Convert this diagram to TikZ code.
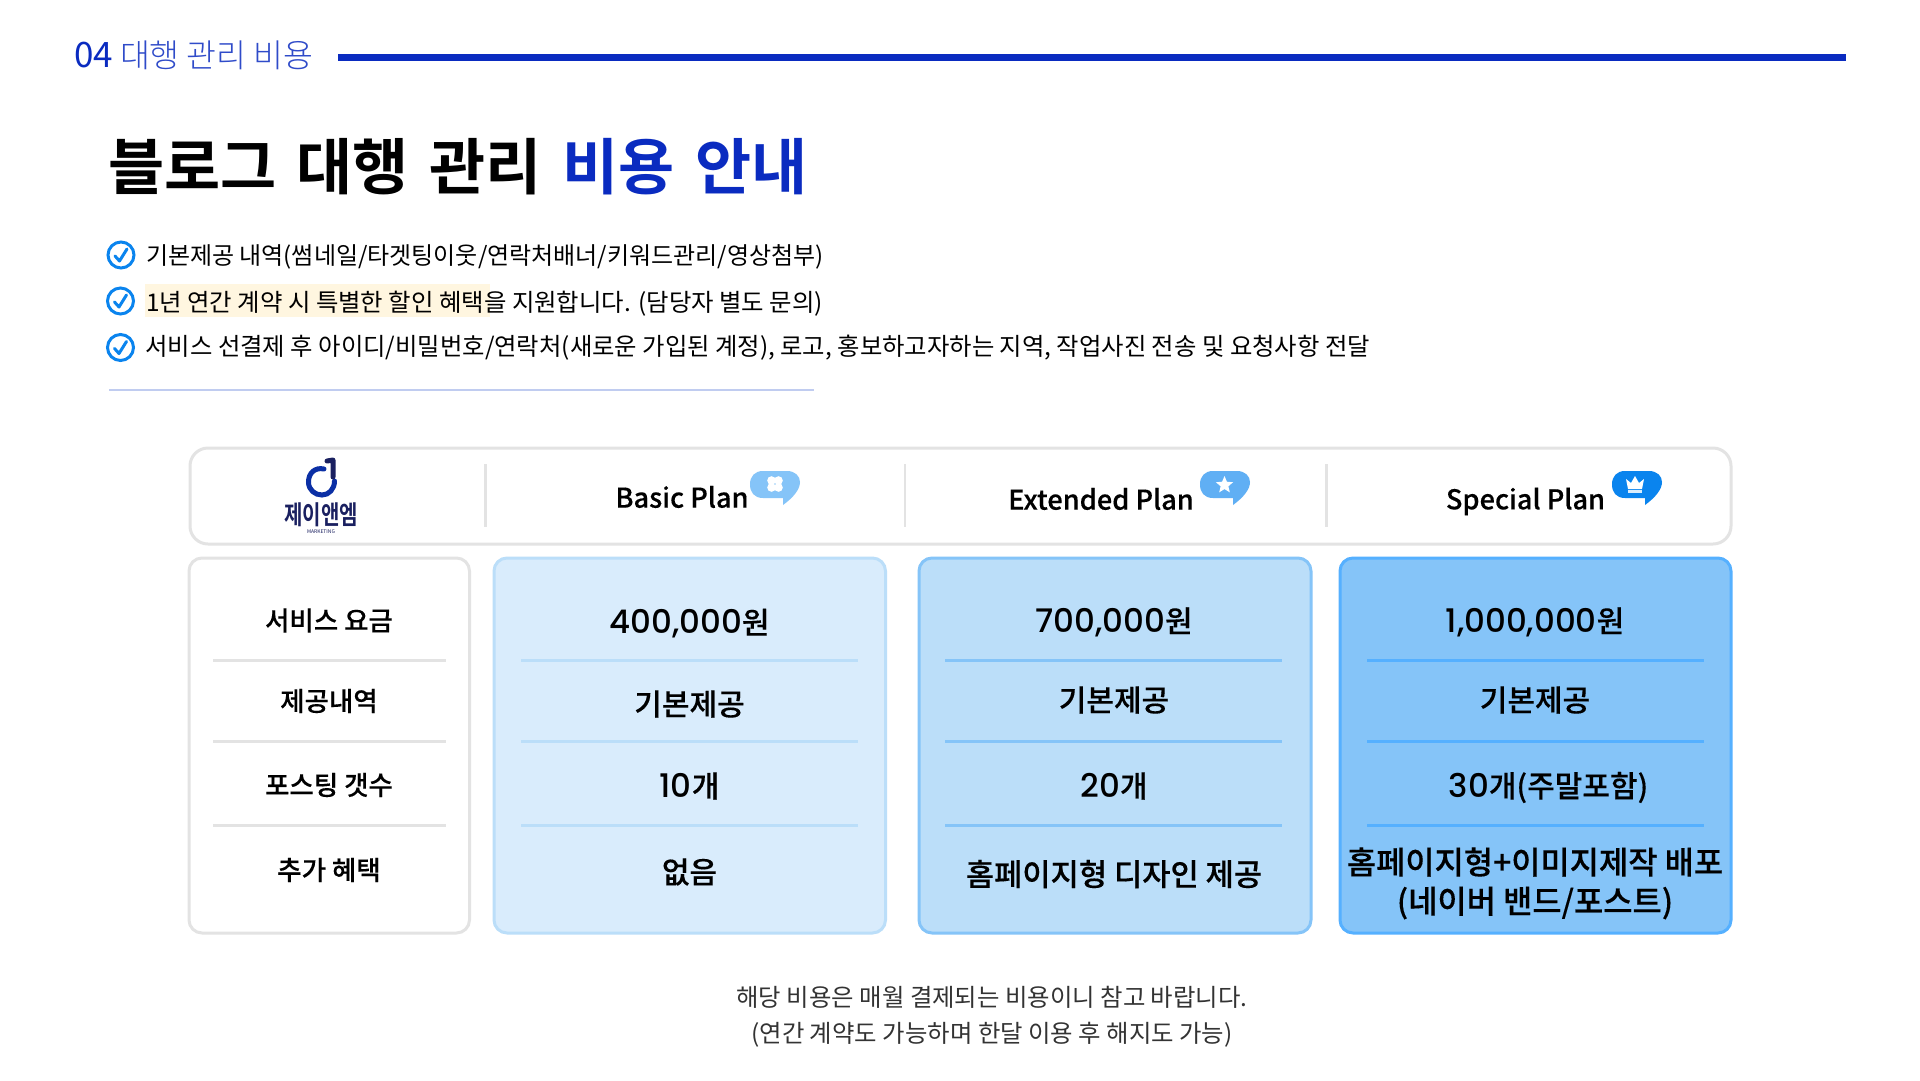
\documentclass[tikz,border=0pt]{standalone}
\usepackage{fontspec}
\usetikzlibrary{shapes.geometric,calc}
\newfontfamily\krl{Noto Sans CJK KR Light}
\newfontfamily\krr{Noto Sans CJK KR}
\newfontfamily\krm{Noto Sans CJK KR Medium}
\newfontfamily\krmf[FakeBold=0.25]{Noto Sans CJK KR Medium}
\newfontfamily\krb{Noto Sans CJK KR Bold}
\newfontfamily\dgf{Poppins Medium}
\definecolor{navyblue}{HTML}{0A2BC0}
\definecolor{grayline}{HTML}{E3E3E3}
\definecolor{hilite}{HTML}{FFF6E0}
\definecolor{rulecol}{HTML}{C0CCF0}
\definecolor{checkcol}{HTML}{0A84EE}
\definecolor{fillA}{HTML}{D9ECFC}
\definecolor{fillB}{HTML}{BBDEF9}
\definecolor{fillC}{HTML}{85C4F8}
\definecolor{edgeC}{HTML}{55B0FF}
\definecolor{logoblue}{HTML}{0B2FA5}
\definecolor{logotext}{HTML}{1A2060}
\tikzset{
  txt/.style={inner sep=0pt,outer sep=0pt,text=black},
  bullettext/.style={txt,anchor=west},
  rowlabel/.style={txt,font=\krmf\fontsize{26.5}{30}\selectfont},
  cellval/.style={txt,font=\krmf\fontsize{30}{34}\selectfont},
  cellbig/.style={txt,font=\krmf\fontsize{31.8}{34}\selectfont},
  planname/.style={txt,font=\krmf\fontsize{27.2}{30}\selectfont},
  footer/.style={txt,text=black!80,font=\krr\fontsize{24.4}{27}\selectfont},
  panel/.style={rounded corners=13pt,line width=3pt},
  hline/.style={line width=3pt},
  sepline/.style={grayline,line width=2.5pt},
  checkring/.style={draw=checkcol,line width=3pt,circle,minimum size=26pt,inner sep=0pt},
  checktick/.style={draw=checkcol,line width=3pt,line cap=round,line join=round}
}
\newcommand{\dg}[1]{{\dgf\fontsize{32.5}{34}\selectfont #1}}
\newcommand{\planbubble}[3]{%
  \begin{scope}[shift={(#1,#2)}]
  \fill[#3] (13,0) -- (37,0) .. controls (45,0) and (50,5) .. (50,11) .. controls (50,18) and (44,26) .. (33,34) -- (33,27) -- (13,27) .. controls (4,27) and (0,21) .. (0,13.5) .. controls (0,5) and (5,0) .. (13,0) -- cycle;
  \end{scope}}
\newcommand{\checkmarkicon}[2]{%
  \node[checkring] (#1) at #2 {};
  \draw[checktick] ($(#1.center)+(-6,1)$) -- ($(#1.center)+(-1.5,6)$) -- ($(#1.center)+(6,-6)$);}
\begin{document}
\begin{tikzpicture}[x=1pt,y=-1pt]
\useasboundingbox (0,0) rectangle (1920,1080);
\fill[white] (0,0) rectangle (1920,1080);
% header
\node[txt,anchor=west,text=navyblue,font=\krl\fontsize{32.5}{36}\selectfont] (sect) at (74,55) {{\krr\fontsize{35}{36}\selectfont 04} \textcolor{navyblue!85}{대행 관리 비용}};
\coordinate (ruleA) at (338,57.5);
\coordinate (ruleB) at (1846,57.5);
\draw[navyblue,line width=6.5pt] (ruleA) -- (ruleB);
% title
\node[txt,anchor=west,font=\krb\fontsize{61}{66}\selectfont] (title) at (108,167) {\spaceskip=20.5pt 블로그 대행 관리 \textcolor{navyblue}{비용 안내}};
% bullets
\fill[hilite] (145,284) rectangle (490,317);
\checkmarkicon{cka}{(121,255)}
\checkmarkicon{ckb}{(120.5,301)}
\checkmarkicon{ckc}{(120.5,347.5)}
\node[bullettext,font=\krr\fontsize{24}{28}\selectfont] (ba) at (146,257) {기본제공 내역(썸네일/타겟팅이웃/연락처배너/키워드관리/영상첨부)};
\node[bullettext,font=\krr\fontsize{24.4}{28}\selectfont] (bb) at (146,303.5) {1년 연간 계약 시 특별한 할인 혜택을 지원합니다. (담당자 별도 문의)};
\node[bullettext,font=\krr\fontsize{24.35}{28}\selectfont] (bc) at (145.5,347.5) {서비스 선결제 후 아이디/비밀번호/연락처(새로운 가입된 계정), 로고, 홍보하고자하는 지역, 작업사진 전송 및 요청사항 전달};
\draw[rulecol,line width=2pt] (109,390) -- (814,390);
% header panel
\draw[panel,rounded corners=18pt,draw=grayline,fill=white] (190,448) rectangle (1731,544);
\draw[sepline] (485.5,464) -- (485.5,527);
\draw[sepline] (905,464) -- (905,527);
\draw[sepline] (1326.5,464) -- (1326.5,527);
% logo
\draw[logoblue,line width=5pt,line cap=round] (324,469) .. controls (315,467) and (308.5,473) .. (308.5,482) .. controls (308.5,490) and (315,495) .. (322,495) .. controls (329,495) and (334.5,489) .. (334.5,481);
\draw[logotext,line width=5pt,line join=round,line cap=round] (327,461) -- (333,460) -- (333,477);
\node[txt,text=logotext,font=\krb\fontsize{20}{24}\selectfont] (logo) at (321,515) {\scalebox{1}[1.3]{제이앤엠}};
\node[txt,text=logotext,font=\krr\fontsize{5}{6}\selectfont] (logosub) at (321,532) {MARKETING};
% plans
\node[planname] (pa) at (682,497) {Basic Plan};
\node[planname] (pb) at (1101,499) {Extended Plan};
\node[planname] (pc) at (1525.5,501.5) {Special Plan};
\planbubble{750}{471}{fillC}
\planbubble{1200}{471}{checkcol!65!white}
\planbubble{1612}{471}{checkcol}
% clover
\foreach \dx/\dy in {-3.5/-3.5,3.5/-3.5,-3.5/3.5,3.5/3.5}{\fill[white] (775+\dx,484+\dy) circle (4.3);}
% star
\node[star,star points=5,star point ratio=2.2,fill=white,inner sep=0pt,minimum size=18pt] (starc) at (1224.5,485) {};
% crown
\fill[white] (1628,489) -- (1626,479) -- (1631,483) -- (1635,476) -- (1639,483) -- (1644,479) -- (1642,489) -- cycle;
\fill[white!85!checkcol] (1628,490) rectangle (1642,493);
% panels
\draw[panel,draw=grayline,fill=white] (189,558) rectangle (469.5,933);
\draw[panel,draw=fillB,fill=fillA] (494,558) rectangle (885.5,933);
\draw[panel,draw=fillC,fill=fillB] (919,558) rectangle (1311,933);
\draw[panel,draw=edgeC,fill=fillC] (1340,558) rectangle (1731,933);
% row lines
\foreach \yy in {660,741,825}{
  \draw[hline,grayline] (213,\yy) -- (445.5,\yy);
  \draw[hline,fillB] (521,\yy) -- (857.5,\yy);
  \draw[hline,fillC] (945,\yy) -- (1281.5,\yy);
  \draw[hline,edgeC] (1367,\yy) -- (1704,\yy);
}
% row labels
\node[rowlabel] (la) at (329,620.5) {서비스 요금};
\node[rowlabel] (lb) at (329,701) {제공내역};
\node[rowlabel] (lc) at (329,785) {포스팅 갯수};
\node[rowlabel] (ld) at (329,870) {추가 혜택};
% basic
\node[cellval] (aa) at (689.5,623.5) {\dg{400,000}원};
\node[cellval] (ab) at (689.5,704) {기본제공};
\node[cellval] (ac) at (689.5,786) {\dg{10}개};
\node[cellval] (ad) at (689.5,872) {없음};
% extended
\node[cellval] (ba2) at (1114,622) {\dg{700,000}원};
\node[cellval] (bb2) at (1114,700) {기본제공};
\node[cellval] (bc2) at (1114,786) {\dg{20}개};
\node[cellval,font=\krmf\fontsize{30.7}{34}\selectfont] (bd2) at (1114,874) {홈페이지형 디자인 제공};
% special
\node[cellval] (ca) at (1535,622) {\dg{1,000,000}원};
\node[cellval] (cb) at (1535,700) {기본제공};
\node[cellval] (cc) at (1548.5,787.5) {\dg{30}개(주말포함)};
\node[cellbig] (cd) at (1535,862) {홈페이지형+이미지제작 배포};
\node[cellbig] (ce) at (1535,903) {(네이버 밴드/포스트)};
% footer
\node[footer] (fa) at (992,997) {해당 비용은 매월 결제되는 비용이니 참고 바랍니다.};
\node[footer] (fb) at (992,1034.5) {(연간 계약도 가능하며 한달 이용 후 해지도 가능)};
\end{tikzpicture}
\end{document}
